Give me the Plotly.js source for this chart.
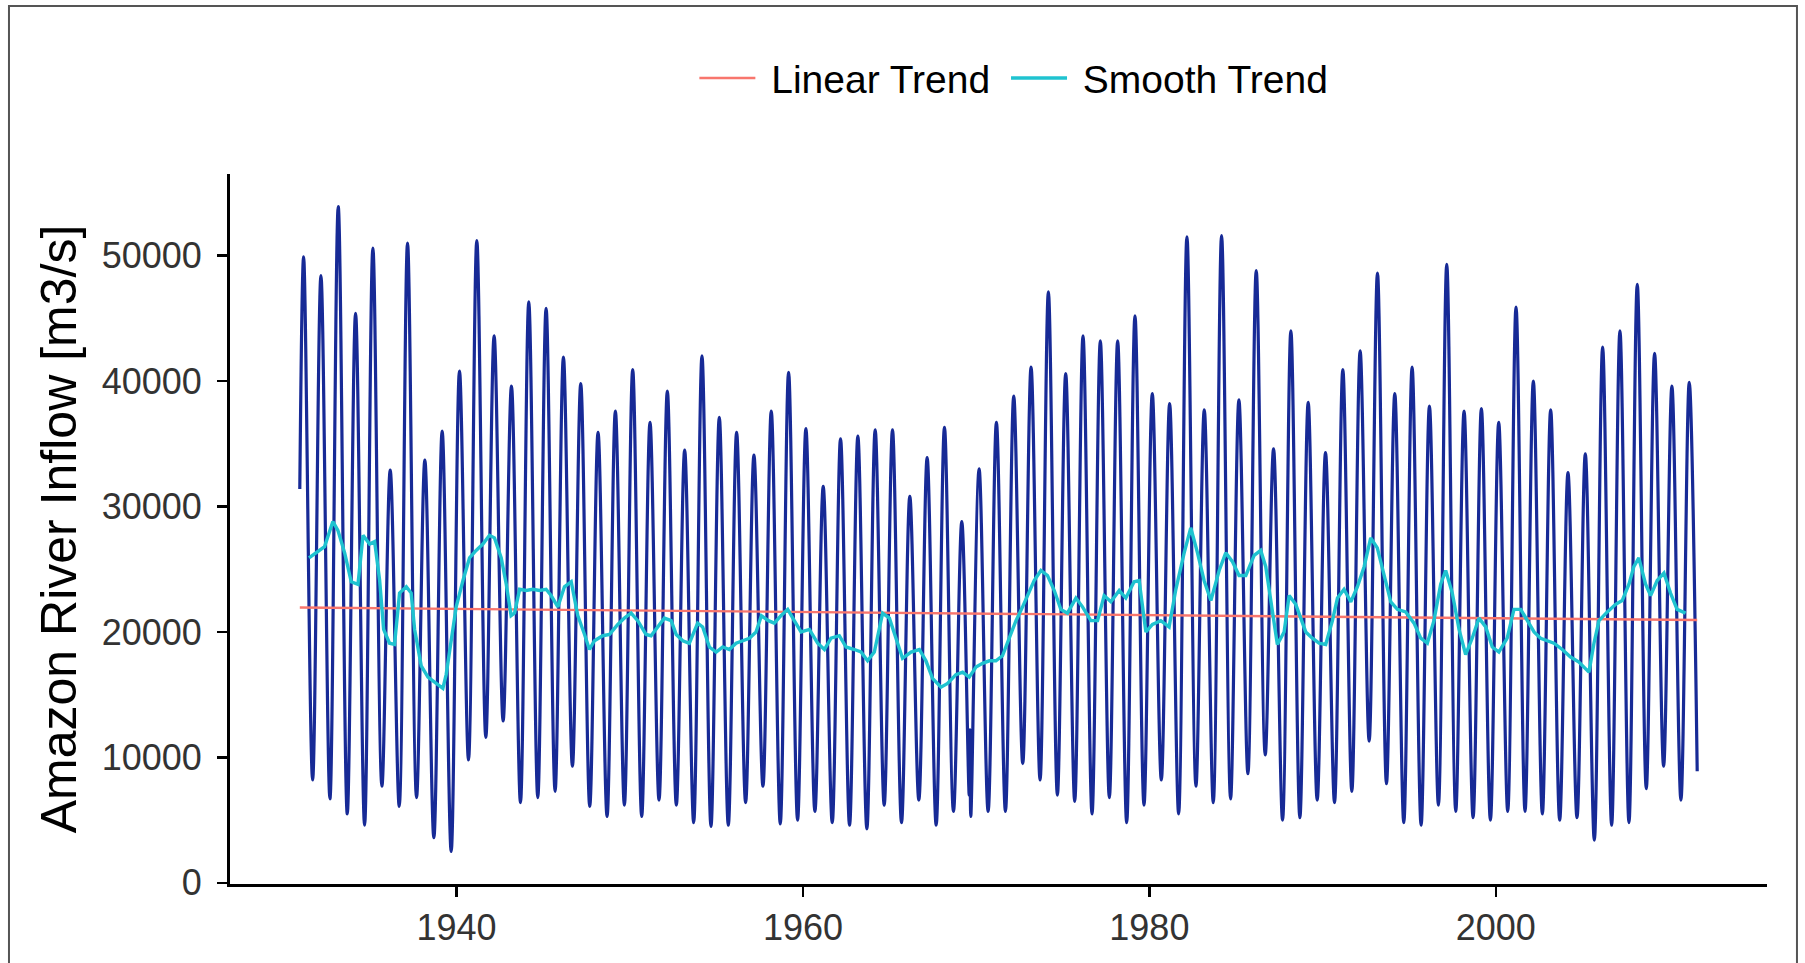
<!DOCTYPE html>
<html><head><meta charset="utf-8">
<script src="https://cdn.plot.ly/plotly-3.0.1.min.js"></script>
<style>html,body{margin:0;padding:0;background:#fff}#chart{width:1805px;height:963px}</style>
</head><body><div id="chart"></div>
<script>
// Annual high-water peaks (m3/s), one per year
const peakYears = [1931,1932,1933,1934,1935,1936,1937,1938,1939,1940,1941,1942,1943,1944,1945,1946,1947,1948,1949,1950,
  1951,1952,1953,1954,1955,1956,1957,1958,1959,1960,1961,1962,1963,1964,1965,1966,1967,1968,1969,1970,
  1971,1972,1973,1974,1975,1976,1977,1978,1979,1980,1981,1982,1983,1984,1985,1986,1987,1988,1989,1990,
  1991,1992,1993,1994,1995,1996,1997,1998,1999,2000,2001,2002,2003,2004,2005,2006,2007,2008,2009,2010,2011];
const peakFlow = [49900,48400,53900,45400,50600,32900,51000,33700,36000,40800,51200,43600,39600,46300,45800,41900,39800,35900,37600,40900,
  36700,39200,34500,42000,37100,35900,34100,37600,40700,36200,31600,35400,35600,36100,36100,30800,33900,36300,28800,33000,
  36700,38800,41100,47100,40600,43600,43200,43200,45200,39000,38200,51500,37700,51600,38500,48800,34600,44000,38300,34300,
  40900,42400,48600,39000,41100,38000,49300,37600,37800,36700,45900,40000,37700,32700,34200,42700,44000,47700,42200,39600,39900];
// Annual low-water troughs (m3/s)
const troughYears = [1931,1932,1933,1934,1935,1936,1937,1938,1939,1940,1941,1942,1943,1944,1945,1946,1947,1948,1949,1950,
  1951,1952,1953,1954,1955,1956,1957,1958,1959,1960,1961,1962,1963,1964,1965,1966,1967,1968,1969,1970,
  1971,1972,1973,1974,1975,1976,1977,1978,1979,1980,1981,1982,1983,1984,1985,1986,1987,1988,1989,1990,
  1991,1992,1993,1994,1995,1996,1997,1998,1999,2000,2001,2002,2003,2004,2005,2006,2007,2008,2009,2010];
const troughFlow = [8200,6700,5500,4600,7700,6100,6800,3600,2500,9800,11600,12900,6400,6800,7300,9300,6100,5300,6200,5300,
  6600,6200,4800,4500,4600,6400,7700,4700,5000,5700,4800,4600,4300,6200,4800,6600,4600,5700,5300,5700,
  5700,9500,8200,7000,6500,5500,6800,4800,6200,8200,5500,7700,6400,6700,8700,10200,5000,5200,6600,6400,
  7300,11300,7900,4800,4600,6200,5700,5200,5000,5700,5700,5500,5000,5200,3400,4600,4800,7500,9300,6600];
const peakTiming = 0.17;    // fraction of year at which the flood peak occurs
const troughTiming = 0.69;  // fraction of year at which the low water occurs
const firstObs = [1930.95, 31400];
const lastObs = [2011.63, 8900];
const extraX = [1969.60, 1969.645];
const extraY = [7000, 12200];

// Smooth trend
const smoothX = [1931.48,1931.90,1932.38,1932.86,1933.15,1933.54,1933.92,1934.31,1934.60,1934.98,1935.27,1935.56,1935.79,1936.13,1936.42,1936.71,1937.10,1937.38,1937.58,1937.96,
  1938.35,1938.83,1939.21,1939.40,1939.69,1939.98,1940.37,1940.75,1941.13,1941.52,1941.90,1942.19,1942.58,1942.87,1943.15,1943.35,1943.64,1944.02,1944.40,1944.79,
  1945.17,1945.46,1945.85,1946.23,1946.62,1947.00,1947.39,1947.67,1947.96,1948.44,1948.83,1949.31,1949.69,1950.08,1950.46,1950.94,1951.23,1951.62,1952.00,1952.39,
  1952.68,1953.06,1953.44,1953.92,1954.21,1954.60,1954.99,1955.37,1955.75,1956.14,1956.52,1956.91,1957.29,1957.60,1958.00,1958.35,1958.73,1959.12,1959.50,1959.89,
  1960.37,1960.85,1961.24,1961.62,1962.10,1962.49,1962.97,1963.35,1963.73,1964.12,1964.60,1964.99,1965.37,1965.75,1966.24,1966.72,1967.10,1967.48,1967.97,1968.35,
  1968.83,1969.22,1969.60,1969.99,1970.37,1970.76,1971.14,1971.52,1971.91,1972.30,1972.68,1973.06,1973.35,1973.74,1974.12,1974.51,1974.89,1975.27,1975.76,1976.14,
  1976.62,1977.01,1977.39,1977.78,1978.26,1978.64,1979.12,1979.41,1979.80,1980.18,1980.66,1981.14,1981.53,1982.01,1982.39,1982.78,1983.16,1983.55,1984.03,1984.41,
  1984.80,1985.18,1985.57,1986.05,1986.43,1986.72,1987.01,1987.39,1987.78,1988.07,1988.45,1988.84,1989.03,1989.41,1989.80,1990.18,1990.57,1990.86,1991.24,1991.63,
  1992.01,1992.40,1992.78,1993.16,1993.55,1993.94,1994.32,1994.80,1995.28,1995.67,1996.05,1996.43,1996.82,1997.11,1997.49,1997.88,1998.26,1998.64,1999.03,1999.42,
  1999.80,2000.18,2000.66,2001.05,2001.44,2001.82,2002.21,2002.59,2002.97,2003.36,2003.84,2004.32,2004.80,2005.38,2005.67,2005.96,2006.44,2006.92,2007.30,2007.69,
  2007.97,2008.26,2008.65,2008.94,2009.32,2009.71,2010.09,2010.47,2010.96];
const smoothY = [25900,26300,26800,28800,28100,26300,24000,23800,27700,27000,27200,24100,20200,19100,19000,23100,23600,23100,20200,17300,
  16400,15900,15500,16600,19500,22000,24100,25900,26500,27000,27700,27500,25900,23800,21300,21500,23400,23300,23400,23300,
  23400,22900,22000,23600,24000,21300,19800,18600,19300,19700,19800,20600,21100,21500,20900,19800,19700,20400,21100,20900,
  19800,19300,19100,20700,20400,18800,18400,18800,18600,19100,19300,19500,20000,21300,20900,20700,21300,21800,20900,20000,
  20200,19100,18600,19500,19700,18800,18600,18400,17700,18400,21500,21100,19500,17900,18400,18600,17700,16300,15600,15900,
  16600,16800,16400,17200,17500,17700,17700,18100,19500,20900,22000,23250,24100,24900,24500,23300,21800,21500,22700,22000,
  20900,20900,22900,22400,23300,22700,24000,24100,20000,20600,20900,20400,23400,26300,28300,26300,24100,22500,24900,26300,
  25600,24500,24500,26100,26500,25200,22400,19000,20000,22900,22200,20600,20000,19500,19100,19000,20900,22700,23400,22400,
  23600,25200,27500,26700,24500,22400,21800,21600,20700,19500,19100,20900,23800,24900,23100,20200,18200,19500,21100,20400,
  18800,18400,19500,21800,21800,20900,20000,19500,19300,19100,18600,18000,17600,16800,19100,20900,21600,22200,22500,23800,
  25200,25900,23800,22900,24100,24700,23100,21800,21500];

// Linear trend end points
const linearX = [1930.95, 2011.63];
const linearY = [21950, 20950];

const yTicks = [0,10000,20000,30000,40000,50000];
const yTickText = ['0','10000','20000','30000','40000','50000'];
const xTicks = [1940,1960,1980,2000];
const xTickText = ['1940','1960','1980','2000'];

// assemble the observed series
let pts = [firstObs, lastObs];
peakYears.forEach((yr,i)=>pts.push([yr+peakTiming, peakFlow[i]]));
troughYears.forEach((yr,i)=>pts.push([yr+troughTiming, troughFlow[i]]));
extraX.forEach((x,i)=>pts.push([x, extraY[i]]));
pts.sort((a,b)=>a[0]-b[0]);

const FONT = '"Liberation Sans", Arial, Helvetica, sans-serif';
const NB = '\u00A0';

const traces = [
  {x: pts.map(p=>p[0]), y: pts.map(p=>p[1]), type:'scatter', mode:'lines',
   line:{color:'#172a96', width:3.2, shape:'spline', smoothing:1}, showlegend:false, hoverinfo:'skip'},
  {x: linearX, y: linearY, type:'scatter', mode:'lines', name: NB + 'Linear Trend' + NB,
   line:{color:'#F8766D', width:2.4}},
  {x: smoothX, y: smoothY, type:'scatter', mode:'lines', name: NB + 'Smooth Trend',
   line:{color:'#1fc3d0', width:3.4}}
];

const layout = {
  width:1805, height:963,
  margin:{l:230, r:38, t:174, b:79},
  paper_bgcolor:'#ffffff', plot_bgcolor:'#ffffff',
  font:{family:FONT, color:'#000'},
  showlegend:true,
  legend:{orientation:'h', x:0.51, xanchor:'center', y:1.135, yanchor:'middle',
          itemwidth:56, font:{size:39, color:'#000', family:FONT}, bgcolor:'rgba(0,0,0,0)'},
  xaxis:{range:[1926.92, 2015.66], tickmode:'array', tickvals:xTicks, ticktext:xTickText,
         showgrid:false, zeroline:false, showline:true, linecolor:'#000', linewidth:3,
         ticks:'outside', ticklen:10, tickwidth:2.5, tickcolor:'#000',
         tickfont:{size:36, color:'#333', family:FONT}},
  yaxis:{range:[-90, 56500], tickmode:'array', tickvals:yTicks, ticktext:yTickText,
         showgrid:false, zeroline:false, showline:true, linecolor:'#000', linewidth:3,
         ticks:'outside', ticklen:10, tickwidth:2.5, tickcolor:'#000', ticklabelstandoff:8,
         tickfont:{size:36, color:'#333', family:FONT},
         title:{text:'Amazon River Inflow [m3/s]', font:{size:50, color:'#000', family:FONT}, standoff:10}},
  shapes:[{type:'rect', xref:'paper', yref:'paper', x0:-0.1438, x1:1.0195, y0:-0.3, y1:1.2366,
           line:{color:'#555', width:2}, fillcolor:'rgba(0,0,0,0)', layer:'below'}]
};

Plotly.newPlot('chart', traces, layout, {displayModeBar:false, staticPlot:true});
</script></body></html>
